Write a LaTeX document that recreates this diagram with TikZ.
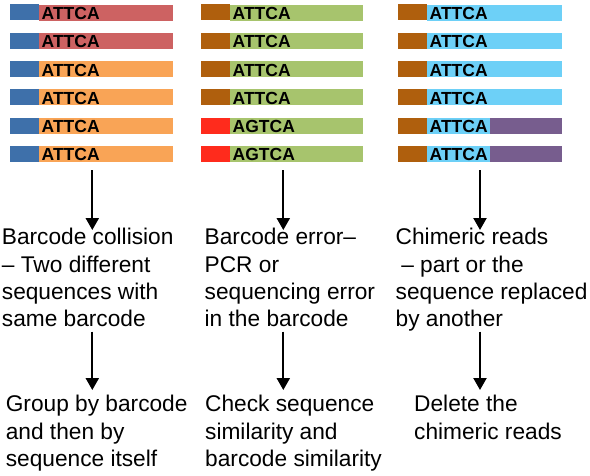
\documentclass[tikz,border=0pt]{standalone}
\usepackage{fontspec}
\setmainfont{Liberation Sans}
\usetikzlibrary{arrows.meta}
\definecolor{cblue}{HTML}{3E70AA}
\definecolor{crose}{HTML}{CD6262}
\definecolor{corange}{HTML}{F9A456}
\definecolor{cgreen}{HTML}{A7C46D}
\definecolor{cbrown}{HTML}{AF5F0D}
\definecolor{cred}{HTML}{FF2B1C}
\definecolor{csky}{HTML}{6DD0F7}
\definecolor{cpurple}{HTML}{775D8E}
\tikzset{
  body/.style={anchor=north west, inner sep=0pt, minimum height=16pt, draw=none},
  seq/.style={anchor=base west, inner sep=0pt, font=\fontsize{17.5}{17.5}\selectfont\bfseries},
  desc/.style={anchor=north west, inner sep=0pt, align=left, font=\fontsize{22.7}{27.3}\selectfont},
  arr/.style={-{Triangle[length=12pt,width=13pt]}, line width=2.2pt},
}
\begin{document}
\begin{tikzpicture}[x=1pt,y=-1pt]
\useasboundingbox[fill=white] (0,0) rectangle (590,475);
% column 1
\foreach \i/\bd in {1/crose,2/crose,3/corange,4/corange,5/corange,6/corange}{
  \node[body, fill=\bd, minimum width=134pt] (a\i) at (39,{4.3+28.3*(\i-1)}) {};
  \fill[cblue] (a\i.north west) rectangle ++(-29,16);
  \node[seq] (sa\i) at ([xshift=2.5pt,yshift=1.3pt]a\i.south west) {ATTCA};
}
% column 2
\foreach \i/\bc/\tx in {1/cbrown/ATTCA,2/cbrown/ATTCA,3/cbrown/ATTCA,4/cbrown/ATTCA,5/cred/AGTCA,6/cred/AGTCA}{
  \node[body, fill=cgreen, minimum width=133pt] (b\i) at (230,{4.3+28.3*(\i-1)}) {};
  \fill[\bc] (b\i.north west) rectangle ++(-29,16);
  \node[seq] (sb\i) at ([xshift=2.5pt,yshift=1.3pt]b\i.south west) {\tx};
}
% column 3
\foreach \i in {1,...,6}{
  \node[body, fill=csky, minimum width=135pt] (c\i) at (427,{4.3+28.3*(\i-1)}) {};
  \fill[cbrown] (c\i.north west) rectangle ++(-29,16);
}
\foreach \i in {5,6}{
  \fill[cpurple] ([xshift=63pt]c\i.north west) rectangle (c\i.south east);
}
\foreach \i in {1,...,6}{
  \node[seq] (sc\i) at ([xshift=2.5pt,yshift=1.3pt]c\i.south west) {ATTCA};
}
% descriptions
\node[desc] (t1) at (1.7,228) {\rule{0pt}{16.5pt}Barcode collision\\– Two different\\sequences with\\same barcode};
\node[desc] (t2) at (204.5,228) {\rule{0pt}{16.5pt}Barcode error–\\PCR or\\sequencing error\\in the barcode};
\node[desc] (t3) at (395.5,228) {\rule{0pt}{16.5pt}Chimeric reads\\\hspace*{5.6pt}– part or the\\sequence replaced\\by another};
% actions
\node[desc] (u1) at (5.6,395.2) {\rule{0pt}{16.5pt}Group by barcode\\and then by\\sequence itself};
\node[desc] (u2) at (205,395.2) {\rule{0pt}{16.5pt}Check sequence\\similarity and\\barcode similarity};
\node[desc] (u3) at (414,395.2) {\rule{0pt}{16.5pt}Delete the\\chimeric reads};
% arrow columns
\coordinate (x1) at (92.3,0);
\coordinate (x2) at (283.3,0);
\coordinate (x3) at (480,0);
\draw[arr] ([yshift=-8pt]a6.south -| x1) -- ([yshift=-2pt]t1.north -| x1);
\draw[arr] ([yshift=-8pt]b6.south -| x2) -- ([yshift=-2pt]t2.north -| x2);
\draw[arr] ([yshift=-8pt]c6.south -| x3) -- ([yshift=-2pt]t3.north -| x3);
\draw[arr] ([yshift=-103.7pt]t1.north -| x1) -- ([yshift=5.2pt]u1.north -| x1);
\draw[arr] ([yshift=-103.7pt]t2.north -| x2) -- ([yshift=5.2pt]u2.north -| x2);
\draw[arr] ([yshift=-103.7pt]t3.north -| x3) -- ([yshift=5.2pt]u3.north -| x3);
\end{tikzpicture}
\end{document}
